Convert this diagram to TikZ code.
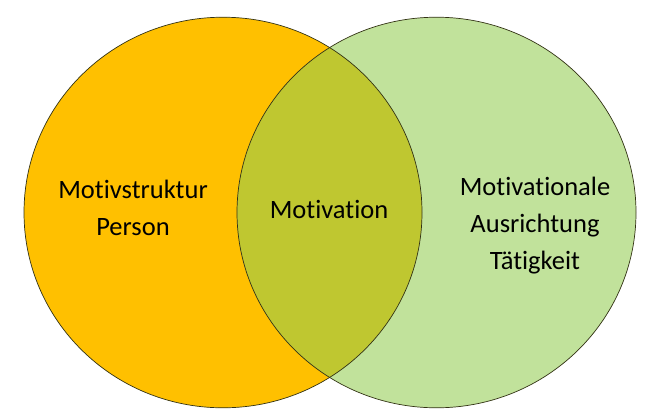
\documentclass[tikz,border=0pt]{standalone}
\usepackage{fontspec}
\setmainfont{Carlito}[Ligatures=NoCommon]
\usepackage{tikz}

\definecolor{orangeperson}{RGB}{255,192,0}
\definecolor{greentask}{RGB}{193,226,155}
\definecolor{olivemix}{RGB}{191,199,48}
\definecolor{rimline}{RGB}{50,50,20}

\begin{document}
\begin{tikzpicture}[x=1pt,y=-1pt,
    txt/.style={font=\fontsize{26.5}{37}\selectfont,align=center,text=black}]
		\useasboundingbox (0,0) rectangle (668,418);
		\coordinate (cl) at (223,212.5);
		\coordinate (cr) at (436.5,212.5);

		\fill [orangeperson] (cl) ellipse (199 and 195.3);
		\fill [greentask] (cr) ellipse (199.5 and 195.3);
		\begin{scope}
			\clip (cl) ellipse (199 and 195.3);
			\fill [olivemix] (cr) ellipse (199.5 and 195.3);
		\end{scope}
		\draw [rimline,line width=0.7pt] (cl) ellipse (199 and 195.3);
		\draw [rimline,line width=0.7pt] (cr) ellipse (199.5 and 195.3);

		\node [txt] (person) at (133,208) {Motivstruktur\\Person};
		\node [txt] (motiv) at (329,209) {Motivation};
		\node [txt] (task) at (535,226) {Motivationale\\Ausrichtung\\Tätigkeit};
    \end{tikzpicture}
\end{document}
